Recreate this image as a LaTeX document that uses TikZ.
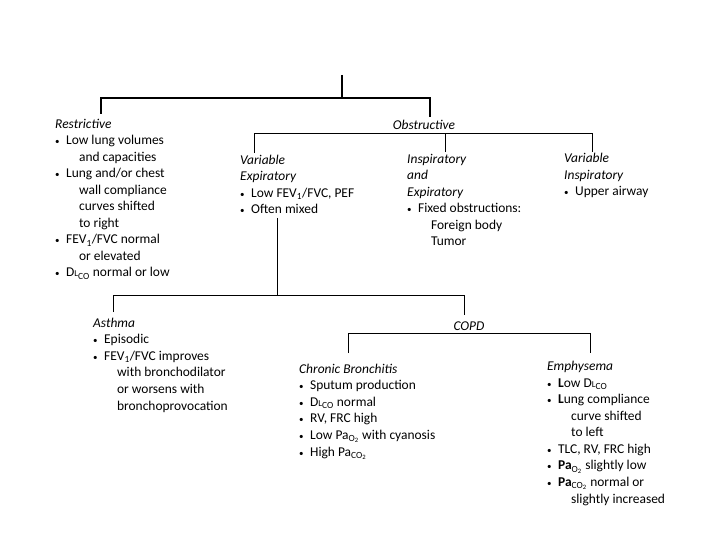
\documentclass[tikz,border=0pt]{standalone}
\usepackage{fontspec}
\setmainfont{Carlito}
\newcommand\bul{\makebox[11pt][l]{\small\textbullet}}
\newcommand\contd{\hspace*{24pt}}
\newcommand\dlco{D{\small L}\textsubscript{CO}}
\newcommand\oxy{\textsubscript{O\textsubscript{2}}}
\newcommand\carb{\textsubscript{CO\textsubscript{2}}}
\newcommand\bodyfont{\fontsize{13.5}{16.6}\selectfont\lineskiplimit=-10pt\relax}

\begin{document}
\begin{tikzpicture}[x=1bp,y=-1bp,
    txt/.style={anchor=base west,align=left,inner sep=0pt,font=\bodyfont},
    hd/.style={anchor=base,inner sep=0pt,font=\bodyfont\itshape},
    tree/.style={line width=0.8pt}]
    \useasboundingbox(0,0)rectangle(720,540);

    % nodes sit on the baseline of their last line
    \node[txt](restr)at(55,277){\textit{Restrictive}\\
        \bul Low lung volumes\\ \contd and capacities\\
        \bul Lung and/or chest\\ \contd wall compliance\\ \contd curves shifted\\ \contd to right\\
        \bul FEV\textsubscript{1}/FVC normal\\ \contd or elevated\\
        \bul \dlco{} normal or low};
    \node[hd](obst)at(424,130){Obstructive};
    \node[txt](varexp)at(240,214){\textit{Variable}\\ \textit{Expiratory}\\
        \bul Low FEV\textsubscript{1}/FVC, PEF\\ \bul Often mixed};
    \node[txt](inexp)at(407,246){\textit{Inspiratory}\\ \textit{and}\\ \textit{Expiratory}\\
        \bul Fixed obstructions:\\ \contd Foreign body\\ \contd Tumor};
    \node[txt](varinsp)at(564,196){\textit{Variable}\\ \textit{Inspiratory}\\ \bul Upper airway};
    \node[txt](asthma)at(93,410){\textit{Asthma}\\ \bul Episodic\\
        \bul FEV\textsubscript{1}/FVC improves\\ \contd with bronchodilator\\
        \contd or worsens with\\ \contd bronchoprovocation};
    \node[hd](copd)at(469,330){COPD};
    \node[txt](chronic)at(299,456){\textit{Chronic Bronchitis}\\ \bul Sputum production\\
        \bul \dlco{} normal\\ \bul RV, FRC high\\ \bul Low Pa\oxy{} with cyanosis\\ \bul High Pa\carb};
    \node[txt](emph)at(547,503){\textit{Emphysema}\\ \bul \textbf{L}ow \dlco\\
        \bul \textbf{L}ung compliance\\ \contd curve shifted\\ \contd to left\\
        \bul TLC, RV, FRC high\\ \bul \textbf{Pa}\oxy{} slightly low\\
        \bul \textbf{Pa}\carb{} normal or\\ \contd slightly increased};

    \coordinate(root)at(342,75);
    \coordinate(barA)at(342,98);
    \coordinate(restrtop)at(101,114);
    \coordinate(obsttop)at(430,117);
    \coordinate(barB)at(430,133);
    \coordinate(varexptop)at(254,153);
    \coordinate(inexptop)at(445,152);
    \coordinate(varinsptop)at(592,152);
    \coordinate(varexpbot)at(277,218);
    \coordinate(barC)at(277,295);
    \coordinate(asthmatop)at(113,312);
    \coordinate(copdtop)at(464,315);
    \coordinate(barD)at(464,333);
    \coordinate(chronictop)at(348,353);
    \coordinate(emphtop)at(590,353);

    \draw[line width=1.2pt](root)--(barA);
    \draw[line width=1.2pt](restrtop)--(restrtop|-barA)--(obsttop|-barA)--(obsttop);
    \draw[tree](varexptop)--(varexptop|-barB)--(varinsptop|-barB)--(varinsptop);
    \draw[tree](inexptop)--(inexptop|-barB);
    \draw[tree](varexpbot)--(barC);
    \draw[tree](asthmatop)--(asthmatop|-barC)--(copdtop|-barC)--(copdtop);
    \draw[tree](chronictop)--(chronictop|-barD)--(emphtop|-barD)--(emphtop);
\end{tikzpicture}
\end{document}
